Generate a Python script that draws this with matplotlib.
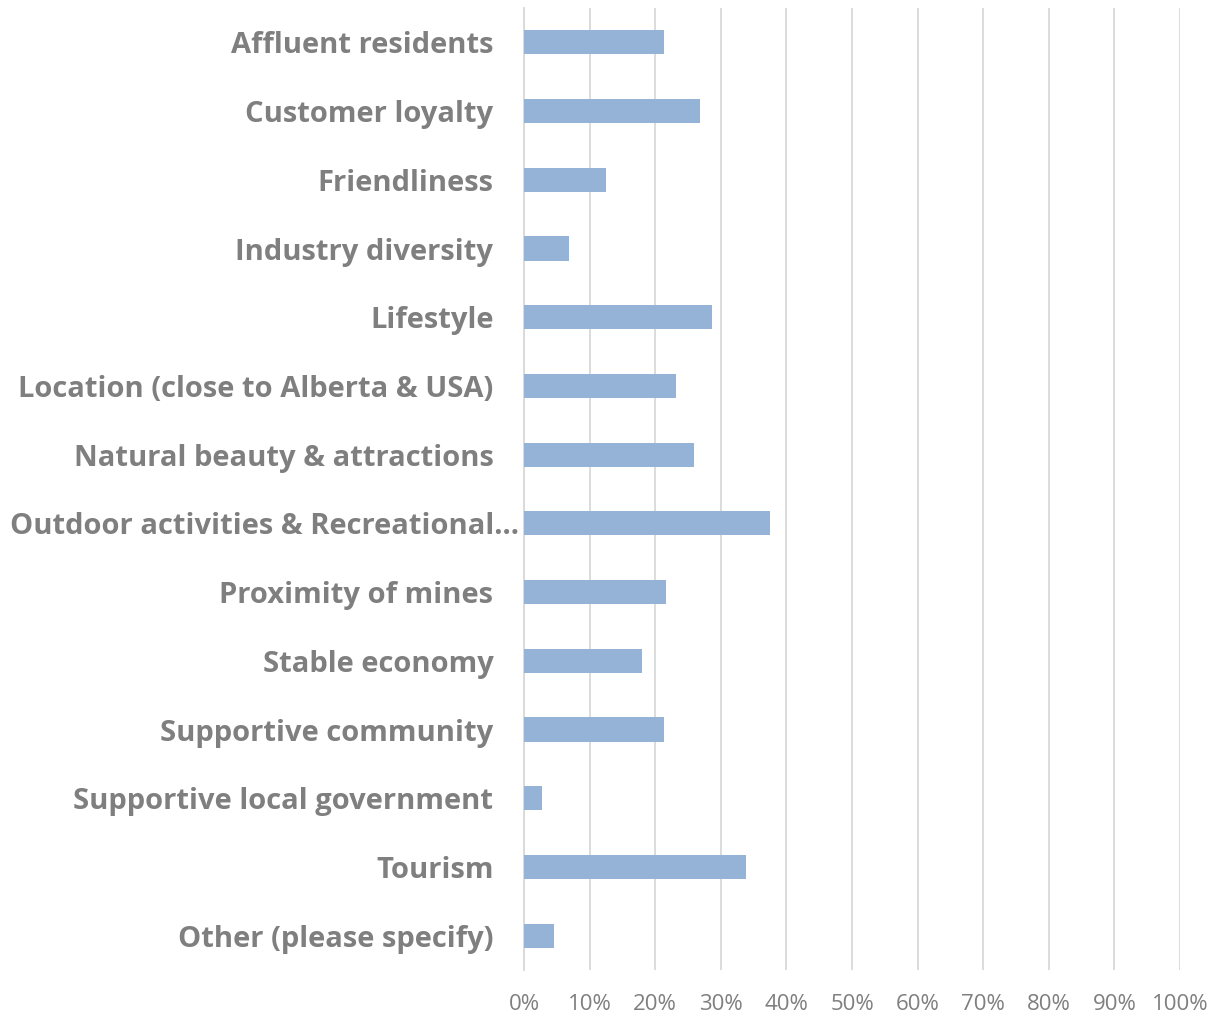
import numpy as np
import matplotlib.pyplot as plt

# survey categories, top to bottom as shown
categories = [
    "Affluent residents",
    "Customer loyalty",
    "Friendliness",
    "Industry diversity",
    "Lifestyle",
    "Location (close to Alberta & USA)",
    "Natural beauty & attractions",
    "Outdoor activities & Recreational…",
    "Proximity of mines",
    "Stable economy",
    "Supportive community",
    "Supportive local government",
    "Tourism",
    "Other (please specify)",
]
shares = [21.3, 26.9, 12.5, 6.9, 28.7, 23.2, 25.9, 37.5, 21.7, 18.0, 21.3, 2.7, 33.8, 4.6]
xticks = [0, 10, 20, 30, 40, 50, 60, 70, 80, 90, 100]

text_col = '#7f7f7f'
bar_col = '#95b3d7'
grid_col = '#d9d9d9'

fig = plt.figure(figsize=(12.14, 10.15), dpi=100)
ax = fig.add_axes([524 / 1214, 1 - 970 / 1015, 656 / 1214, 962 / 1015])

y = np.arange(len(categories))
ax.barh(y, shares, height=0.35, color=bar_col, zorder=3)

ax.set_xlim(0, 100)
ax.set_ylim(len(categories) - 0.5, -0.5)
ax.set_xticks(xticks)
ax.set_xticklabels([f"{t}%" for t in xticks], fontsize=16, color=text_col,
                   family='Open Sans')
ax.set_yticks(y)
ax.set_yticklabels(categories, fontsize=21, color=text_col,
                   family='Open Sans', fontweight='bold')

ax.tick_params(axis='x', length=0, pad=17)
ax.tick_params(axis='y', length=0, pad=22)
# the truncated label sits closer to the axis
ax.yaxis.get_major_ticks()[7].set_pad(3.5)

ax.grid(axis='x', color=grid_col, linewidth=1.3, zorder=0)
for s in ['top', 'right', 'bottom']:
    ax.spines[s].set_visible(False)
ax.spines['left'].set_color(grid_col)
ax.spines['left'].set_linewidth(1.3)

fig.savefig('out.png', dpi=100)
